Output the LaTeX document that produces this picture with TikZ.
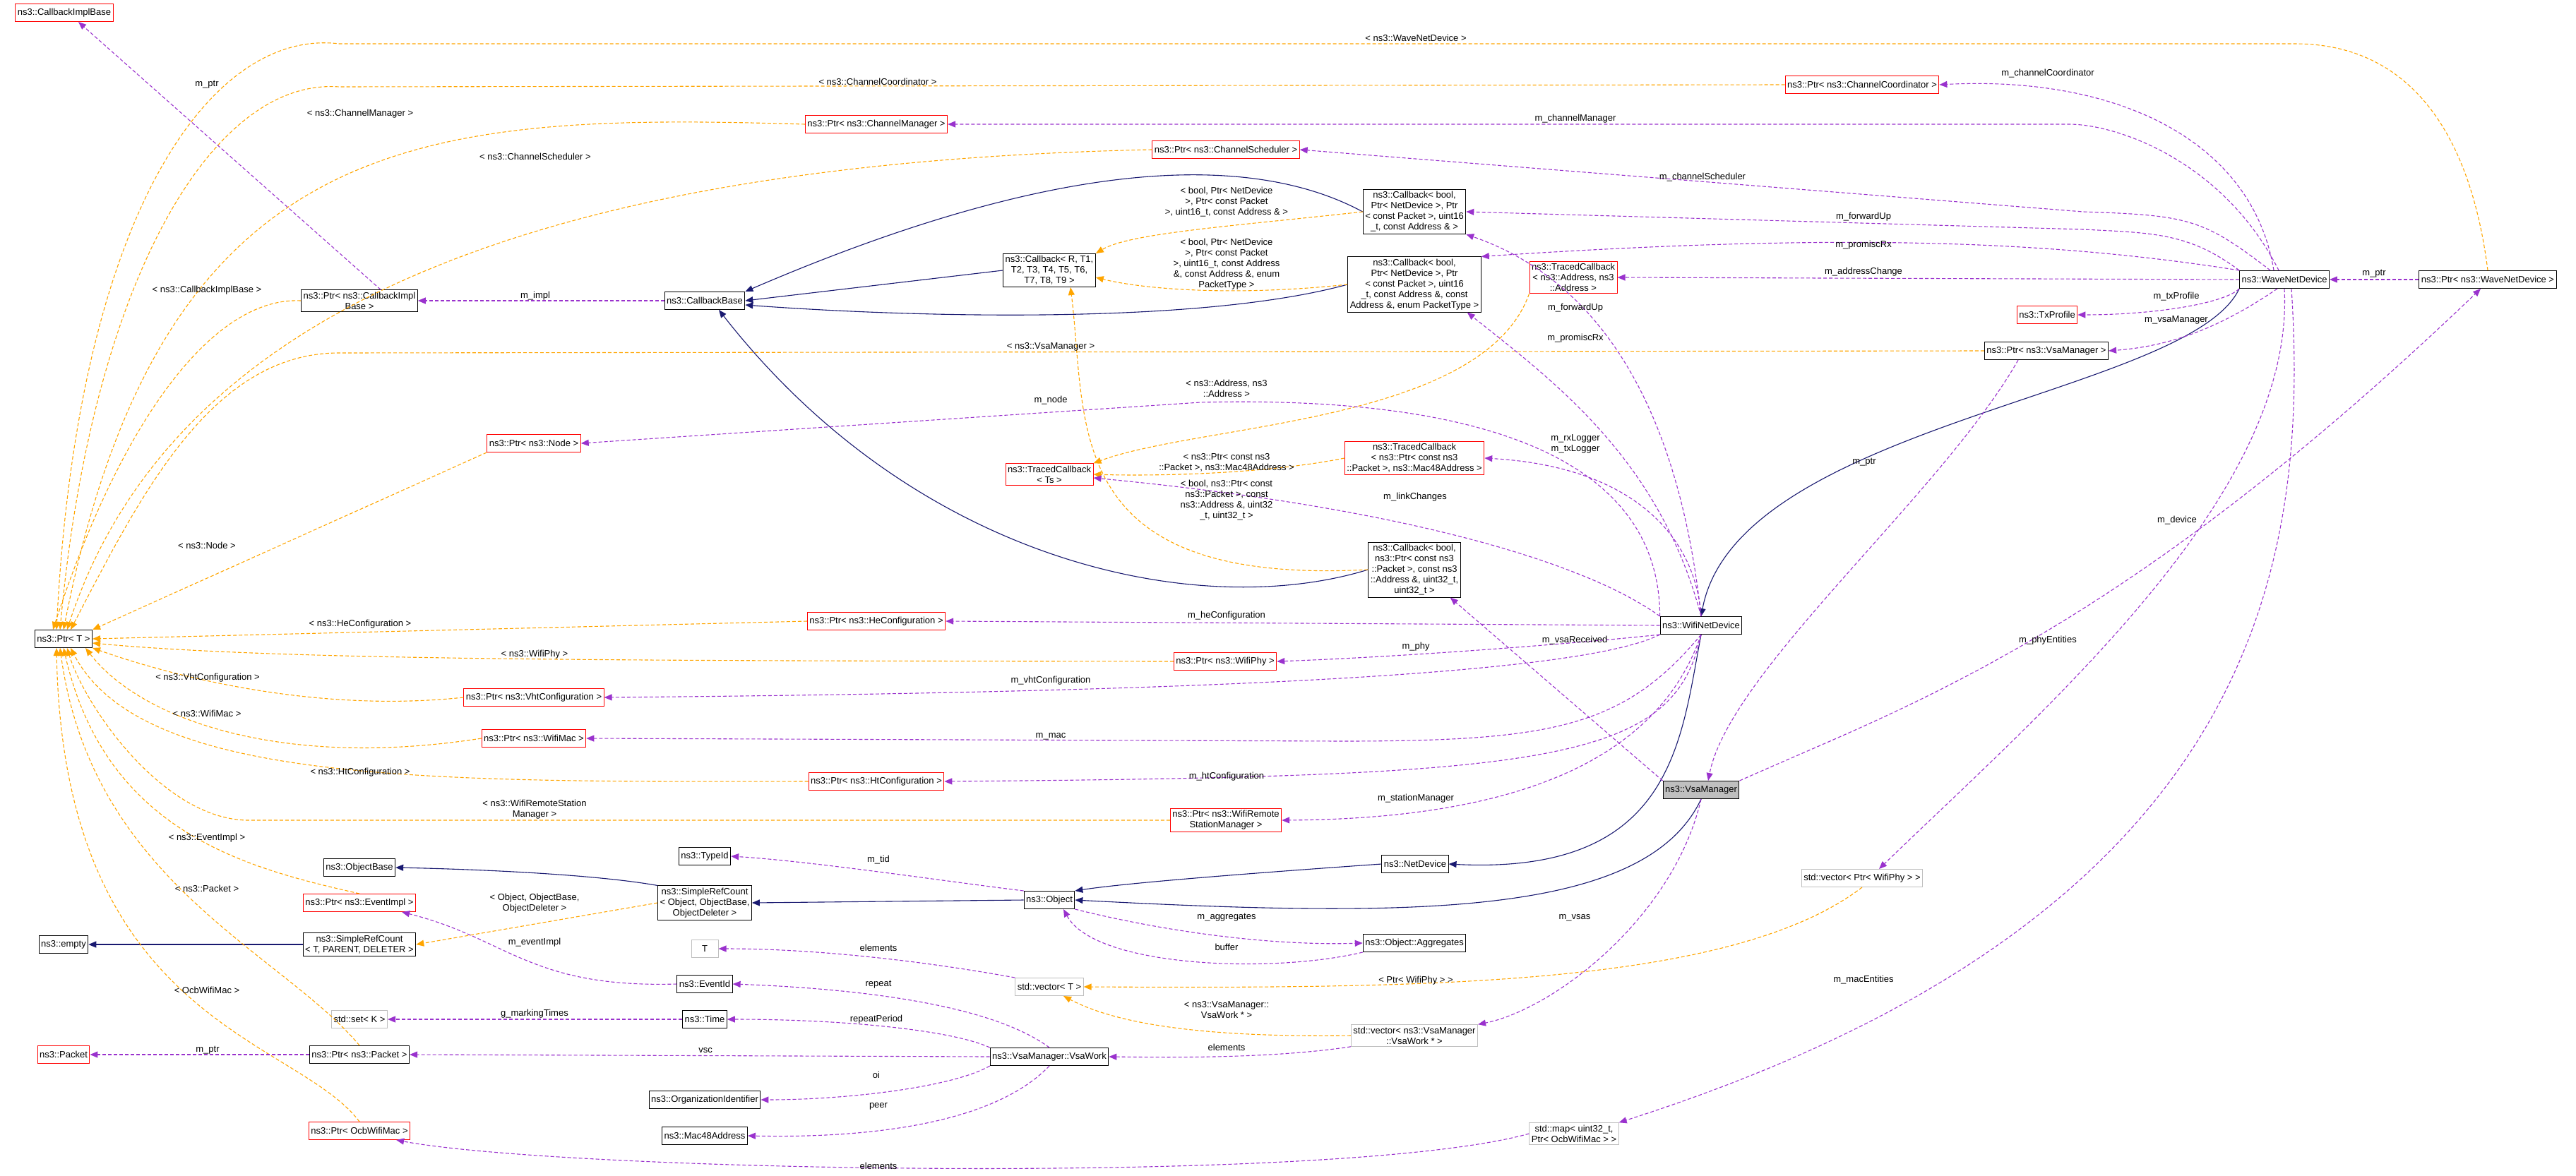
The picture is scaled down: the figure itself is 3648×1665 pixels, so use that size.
\documentclass[tikz,border=0pt]{standalone}
\usepackage{fontspec}
\setmainfont{Liberation Sans}
\usetikzlibrary{arrows.meta}
\definecolor{usecol}{HTML}{9A32CD}
\definecolor{tplcol}{HTML}{FFA500}
\definecolor{inhcol}{HTML}{191970}
\definecolor{boxgrey}{HTML}{BFBFBF}
\tikzset{
  cls/.style={draw=black, line width=1pt, fill=white, inner sep=3pt, minimum height=25pt, align=center, font=\fontsize{13}{15}\selectfont},
  undoc/.style={cls, draw=red},
  ext/.style={cls, draw=boxgrey},
  self/.style={cls, fill=boxgrey},
  lbl/.style={align=center, inner sep=1pt, font=\fontsize{13}{15}\selectfont},
  use/.style={draw=usecol, line width=1.1pt, dash pattern=on 5pt off 3pt, -{Triangle[length=11pt,width=9pt]}},
  tpl/.style={draw=tplcol, line width=1.1pt, dash pattern=on 5pt off 3pt, -{Triangle[length=11pt,width=9pt]}},
  inh/.style={draw=inhcol, line width=1.1pt, -{Triangle[length=11pt,width=9pt]}},
}
\begin{document}
\begin{tikzpicture}[x=1pt,y=-1pt]
  \useasboundingbox (0,0) rectangle (3648,1665);

  % classes
  \node[undoc] (cib) at (91,18) {ns3::CallbackImplBase};
  \node[cls] (pcib) at (509,426) {ns3::Ptr< ns3::CallbackImpl\\Base >};
  \node[cls] (cbase) at (998,426) {ns3::CallbackBase};
  \node[undoc] (pcc) at (2637,120) {ns3::Ptr< ns3::ChannelCoordinator >};
  \node[undoc] (pcm) at (1241,176) {ns3::Ptr< ns3::ChannelManager >};
  \node[undoc] (pcs) at (1736,212) {ns3::Ptr< ns3::ChannelScheduler >};
  \node[cls] (cbfwd) at (2003,300) {ns3::Callback< bool,\\ Ptr< NetDevice >, Ptr\\< const Packet >, uint16\\\_t, const Address \& >};
  \node[cls] (cbgen) at (1486,383) {ns3::Callback< R, T1,\\ T2, T3, T4, T5, T6,\\ T7, T8, T9 >};
  \node[cls] (cbprom) at (2003,403) {ns3::Callback< bool,\\ Ptr< NetDevice >, Ptr\\< const Packet >, uint16\\\_t, const Address \&, const\\ Address \&, enum PacketType >};
  \node[undoc] (tcaddr) at (2228,393) {ns3::TracedCallback\\< ns3::Address, ns3\\::Address >};
  \node[cls] (wave) at (3235,396) {ns3::WaveNetDevice};
  \node[cls] (pwave) at (3523,396) {ns3::Ptr< ns3::WaveNetDevice >};
  \node[undoc] (txp) at (2899,446) {ns3::TxProfile};
  \node[cls] (pvsa) at (2898,497) {ns3::Ptr< ns3::VsaManager >};
  \node[undoc] (pnode) at (756,628) {ns3::Ptr< ns3::Node >};
  \node[undoc] (tcts) at (1486,672) {ns3::TracedCallback\\< Ts >};
  \node[undoc] (tcpkt) at (2003,649) {ns3::TracedCallback\\< ns3::Ptr< const ns3\\::Packet >, ns3::Mac48Address >};
  \node[cls] (cbvsa) at (2003,807) {ns3::Callback< bool,\\ ns3::Ptr< const ns3\\::Packet >, const ns3\\::Address \&, uint32\_t,\\ uint32\_t >};
  \node[cls] (pt) at (90,905) {ns3::Ptr< T >};
  \node[undoc] (phe) at (1241,880) {ns3::Ptr< ns3::HeConfiguration >};
  \node[cls] (wifi) at (2409,886) {ns3::WifiNetDevice};
  \node[undoc] (pphy) at (1735,937) {ns3::Ptr< ns3::WifiPhy >};
  \node[undoc] (pvht) at (756,988) {ns3::Ptr< ns3::VhtConfiguration >};
  \node[undoc] (pmac) at (756,1046) {ns3::Ptr< ns3::WifiMac >};
  \node[undoc] (pht) at (1241,1107) {ns3::Ptr< ns3::HtConfiguration >};
  \node[undoc] (prsm) at (1736,1162) {ns3::Ptr< ns3::WifiRemote\\StationManager >};
  \node[self] (vsa) at (2409,1119) {ns3::VsaManager};
  \node[cls] (tid) at (998,1213) {ns3::TypeId};
  \node[cls] (obase) at (509,1229) {ns3::ObjectBase};
  \node[cls] (netdev) at (2004,1224) {ns3::NetDevice};
  \node[undoc] (pevt) at (509,1279) {ns3::Ptr< ns3::EventImpl >};
  \node[cls] (src) at (998,1279) {ns3::SimpleRefCount\\< Object, ObjectBase,\\ ObjectDeleter >};
  \node[cls] (obj) at (1486,1275) {ns3::Object};
  \node[cls] (srt) at (509,1338) {ns3::SimpleRefCount\\< T, PARENT, DELETER >};
  \node[cls] (empty) at (90,1338) {ns3::empty};
  \node[ext, minimum width=38pt] (tnode) at (998,1344) {T};
  \node[cls] (agg) at (2003,1336) {ns3::Object::Aggregates};
  \node[ext] (vect) at (1486,1398) {std::vector< T >};
  \node[cls] (evid) at (998,1394) {ns3::EventId};
  \node[ext] (setk) at (509,1444) {std::set< K >};
  \node[cls] (time) at (998,1444) {ns3::Time};
  \node[ext] (vwork) at (2003,1467) {std::vector< ns3::VsaManager\\::VsaWork * >};
  \node[undoc] (pkt) at (90,1494) {ns3::Packet};
  \node[cls] (ppkt) at (509,1494) {ns3::Ptr< ns3::Packet >};
  \node[cls] (work) at (1486,1497) {ns3::VsaManager::VsaWork};
  \node[ext] (vphy) at (2637,1244) {std::vector< Ptr< WifiPhy > >};
  \node[cls] (orgid) at (998,1558) {ns3::OrganizationIdentifier};
  \node[cls] (mac48) at (998,1609) {ns3::Mac48Address};
  \node[undoc] (pocb) at (509,1602) {ns3::Ptr< OcbWifiMac >};
  \node[ext] (smap) at (2229,1606) {std::map< uint32\_t,\\ Ptr< OcbWifiMac > >};

  % inheritance
  \draw[inh] (cbfwd.west) .. controls (1800,230) and (1550,200) .. (cbase.north east);
  \draw[inh] (cbgen.west) -- (cbase.east);
  \draw[inh] (cbprom.west) .. controls (1700,460) and (1300,450) .. ([yshift=-6pt]cbase.east);
  \draw[inh] (cbvsa.west) .. controls (1700,880) and (1300,800) .. ([xshift=20pt]cbase.south);
  \draw[inh] (wave.south west) .. controls (3100,560) and (2460,600) .. (wifi.north);
  \draw[inh] (wifi.south) .. controls (2380,1050) and (2370,1240) .. (netdev.east);
  \draw[inh] (netdev.west) .. controls (1800,1235) and (1600,1250) .. (obj.north east);
  \draw[inh] (vsa.south) .. controls (2330,1300) and (2000,1300) .. (obj.east);
  \draw[inh] (src.north west) .. controls (850,1240) and (700,1232) .. (obase.east);
  \draw[inh] (obj.west) -- (src.east);
  \draw[inh] (srt.west) -- (empty.east);

  % templates
  \draw[tpl] (pwave.north) .. controls (3500,200) and (3420,62) .. (3250,62) -- (480,62) .. controls (300,40) and (110,300) .. ([xshift=-10pt]pt.north);
  \draw[tpl] (pcc.west) -- (480,123) .. controls (300,110) and (130,400) .. ([xshift=-5pt]pt.north);
  \draw[tpl] (pcm.west) .. controls (600,160) and (230,180) .. (pt.north);
  \draw[tpl] (pcs.west) .. controls (800,230) and (250,420) .. ([xshift=5pt]pt.north);
  \draw[tpl] (pcib.west) .. controls (300,420) and (170,600) .. ([xshift=-15pt]pt.north);
  \draw[tpl] (pvsa.west) -- (480,500) .. controls (300,500) and (200,700) .. ([xshift=10pt]pt.north);
  \draw[tpl] (pnode.south west) -- (pt.north east);
  \draw[tpl] (phe.west) -- (pt.east);
  \draw[tpl] (pphy.west) .. controls (900,936) and (400,936) .. ([yshift=-6pt]pt.east);
  \draw[tpl] (pvht.west) .. controls (450,1010) and (250,960) .. (pt.south east);
  \draw[tpl] (pmac.west) .. controls (400,1090) and (200,1020) .. ([xshift=-10pt]pt.south east);
  \draw[tpl] (pht.west) .. controls (600,1108) and (200,1110) .. ([xshift=10pt]pt.south);
  \draw[tpl] (prsm.west) -- (350,1162) .. controls (230,1160) and (120,1000) .. ([xshift=5pt]pt.south);
  \draw[tpl] (pevt.north) .. controls (350,1230) and (150,1180) .. (pt.south);
  \draw[tpl] (ppkt.north) .. controls (400,1350) and (130,1250) .. ([xshift=-5pt]pt.south);
  \draw[tpl] (pocb.north) .. controls (420,1470) and (90,1450) .. ([xshift=-10pt]pt.south);
  \draw[tpl] (cbfwd.west) .. controls (1750,320) and (1600,330) .. (cbgen.north east);
  \draw[tpl] (cbprom.west) .. controls (1750,420) and (1620,410) .. ([yshift=-10pt]cbgen.east);
  \draw[tpl] (cbvsa.west) .. controls (1500,830) and (1540,600) .. ([xshift=30pt]cbgen.south);
  \draw[tpl] (tcaddr.south west) .. controls (2100,600) and (1700,600) .. (tcts.north east);
  \draw[tpl] (tcpkt.west) .. controls (1800,670) and (1650,675) .. (tcts.east);
  \draw[tpl] (src.west) -- (srt.east);
  \draw[tpl] (vphy.south) .. controls (2450,1400) and (2000,1400) .. (vect.east);
  \draw[tpl] (vwork.west) .. controls (1700,1470) and (1580,1450) .. ([xshift=20pt]vect.south);

  % members
  \draw[use] ([xshift=30pt]pcib.north) -- ([xshift=20pt]cib.south);
  \draw[use] (cbase.west) -- (pcib.east);
  \draw[use] ([xshift=-15pt]wave.north) .. controls (3190,200) and (3000,107) .. (pcc.east);
  \draw[use] ([xshift=-8pt]wave.north) .. controls (3150,230) and (3000,176) .. (2930,176) -- (pcm.east);
  \draw[use] ([xshift=-20pt]wave.north) .. controls (3120,310) and (3100,305) .. (2950,300) -- (pcs.east);
  \draw[use] (wave.north west) .. controls (3100,330) and (3050,330) .. (2950,325) -- (cbfwd.east);
  \draw[use] (wave.north west) .. controls (2900,340) and (2600,330) .. (cbprom.north east);
  \draw[use] (wave.west) -- (tcaddr.east);
  \draw[use] (wave.south west) .. controls (3150,430) and (3050,446) .. (txp.east);
  \draw[use] ([xshift=-10pt]wave.south) .. controls (3150,460) and (3080,490) .. (pvsa.east);
  \draw[use] (pwave.west) -- (wave.east);
  \draw[use] (wave.south) .. controls (3250,700) and (2900,1000) .. ([xshift=24pt]vphy.north);
  \draw[use] ([xshift=10pt]wave.south) .. controls (3270,800) and (3200,1300) .. (smap.north east);
  \draw[use] (wifi.north) .. controls (2390,700) and (2330,420) .. (cbfwd.south east);
  \draw[use] (wifi.north) .. controls (2350,650) and (2200,540) .. ([xshift=-20pt]cbprom.south east);
  \draw[use] (wifi.north west) .. controls (2350,650) and (2100,560) .. (1700,570) -- (pnode.east);
  \draw[use] (wifi.north west) .. controls (2250,800) and (2000,720) .. ([yshift=-5pt]tcts.east);
  \draw[use] (wifi.north) .. controls (2400,750) and (2300,660) .. (tcpkt.east);
  \draw[use] (wifi.west) -- (phe.east);
  \draw[use] (wifi.south west) .. controls (2250,910) and (2000,930) .. (pphy.east);
  \draw[use] (wifi.south west) .. controls (2250,950) and (1800,980) .. (pvht.east);
  \draw[use] (wifi.south) .. controls (2300,1030) and (2200,1050) .. (1900,1050) -- (pmac.east);
  \draw[use] (wifi.south) .. controls (2370,1080) and (2200,1100) .. (pht.east);
  \draw[use] (wifi.south) .. controls (2340,1100) and (2100,1160) .. (prsm.east);
  \draw[use] (vsa.north west) -- ([xshift=-15pt]cbvsa.south east);
  \draw[use] (vsa.north east) .. controls (2700,1000) and (3000,900) .. ([xshift=-10pt]pwave.south);
  \draw[use] (vsa.south) .. controls (2370,1300) and (2200,1430) .. (vwork.north east);
  \draw[use] ([xshift=-40pt]pvsa.south) .. controls (2750,700) and (2450,950) .. ([xshift=10pt]vsa.north);
  \draw[use] (obj.north west) .. controls (1350,1250) and (1150,1220) .. (tid.east);
  \draw[use] (obj.south east) .. controls (1650,1320) and (1800,1340) .. (agg.west);
  \draw[use] (agg.south west) .. controls (1800,1380) and (1550,1370) .. ([xshift=20pt]obj.south);
  \draw[use] (vect.north west) .. controls (1300,1360) and (1150,1344) .. (tnode.east);
  \draw[use] (evid.west) .. controls (750,1400) and (720,1330) .. ([xshift=-20pt]pevt.south east);
  \draw[use] (time.west) -- (setk.east);
  \draw[use] (ppkt.west) -- (pkt.east);
  \draw[use] (work.north) .. controls (1400,1420) and (1200,1400) .. (evid.east);
  \draw[use] (work.north west) .. controls (1350,1460) and (1200,1444) .. (time.east);
  \draw[use] (work.west) -- (ppkt.east);
  \draw[use] (work.south west) .. controls (1350,1540) and (1200,1558) .. (orgid.east);
  \draw[use] (work.south) .. controls (1400,1600) and (1200,1612) .. (mac48.east);
  \draw[use] (vwork.south west) .. controls (1800,1500) and (1650,1498) .. (work.east);
  \draw[use] (smap.west) .. controls (1900,1680) and (800,1660) .. ([xshift=-20pt]pocb.south east);

  % labels
  \node[lbl] at (2005,54) {< ns3::WaveNetDevice >};
  \node[lbl] at (1243,116) {< ns3::ChannelCoordinator >};
  \node[lbl] at (510,161) {< ns3::ChannelManager >};
  \node[lbl] at (758,222) {< ns3::ChannelScheduler >};
  \node[lbl] at (293,411) {< ns3::CallbackImplBase >};
  \node[lbl] at (1488,491) {< ns3::VsaManager >};
  \node[lbl] at (293,773) {< ns3::Node >};
  \node[lbl] at (510,884) {< ns3::HeConfiguration >};
  \node[lbl] at (757,927) {< ns3::WifiPhy >};
  \node[lbl] at (294,960) {< ns3::VhtConfiguration >};
  \node[lbl] at (293,1011) {< ns3::WifiMac >};
  \node[lbl] at (510,1094) {< ns3::HtConfiguration >};
  \node[lbl] at (757,1147) {< ns3::WifiRemoteStation\\Manager >};
  \node[lbl] at (293,1187) {< ns3::EventImpl >};
  \node[lbl] at (293,1259) {< ns3::Packet >};
  \node[lbl] at (293,1403) {< OcbWifiMac >};
  \node[lbl] at (757,1280) {< Object, ObjectBase,\\ObjectDeleter >};
  \node[lbl] at (1737,286) {< bool, Ptr< NetDevice\\>, Ptr< const Packet\\>, uint16\_t, const Address \& >};
  \node[lbl] at (1737,374) {< bool, Ptr< NetDevice\\>, Ptr< const Packet\\>, uint16\_t, const Address\\\&, const Address \&, enum\\PacketType >};
  \node[lbl] at (1737,550) {< ns3::Address, ns3\\::Address >};
  \node[lbl] at (1737,655) {< ns3::Ptr< const ns3\\::Packet >, ns3::Mac48Address >};
  \node[lbl] at (1737,709) {< bool, ns3::Ptr< const\\ns3::Packet >, const\\ns3::Address \&, uint32\\\_t, uint32\_t >};
  \node[lbl] at (2005,1389) {< Ptr< WifiPhy > >};
  \node[lbl] at (1737,1431) {< ns3::VsaManager::\\VsaWork * >};
  \node[lbl] at (293,120) {m\_ptr};
  \node[lbl] at (758,419) {m\_impl};
  \node[lbl] at (2900,104) {m\_channelCoordinator};
  \node[lbl] at (2231,168) {m\_channelManager};
  \node[lbl] at (2411,251) {m\_channelScheduler};
  \node[lbl] at (2639,307) {m\_forwardUp};
  \node[lbl] at (2639,347) {m\_promiscRx};
  \node[lbl] at (2639,385) {m\_addressChange};
  \node[lbl] at (3362,388) {m\_ptr};
  \node[lbl] at (3082,420) {m\_txProfile};
  \node[lbl] at (3082,453) {m\_vsaManager};
  \node[lbl] at (2231,436) {m\_forwardUp};
  \node[lbl] at (2231,479) {m\_promiscRx};
  \node[lbl] at (1488,567) {m\_node};
  \node[lbl] at (2231,629) {m\_rxLogger\\m\_txLogger};
  \node[lbl] at (2004,704) {m\_linkChanges};
  \node[lbl] at (2640,655) {m\_ptr};
  \node[lbl] at (3083,737) {m\_device};
  \node[lbl] at (2900,907) {m\_phyEntities};
  \node[lbl] at (1737,872) {m\_heConfiguration};
  \node[lbl] at (2005,916) {m\_phy};
  \node[lbl] at (2230,907) {m\_vsaReceived};
  \node[lbl] at (1488,964) {m\_vhtConfiguration};
  \node[lbl] at (1488,1043) {m\_mac};
  \node[lbl] at (1737,1100) {m\_htConfiguration};
  \node[lbl] at (2005,1131) {m\_stationManager};
  \node[lbl] at (1737,1300) {m\_aggregates};
  \node[lbl] at (1737,1342) {buffer};
  \node[lbl] at (2230,1300) {m\_vsas};
  \node[lbl] at (2639,1388) {m\_macEntities};
  \node[lbl] at (1737,1484) {elements};
  \node[lbl] at (1244,1218) {m\_tid};
  \node[lbl] at (1244,1343) {elements};
  \node[lbl] at (757,1335) {m\_eventImpl};
  \node[lbl] at (1244,1395) {repeat};
  \node[lbl] at (757,1436) {g\_markingTimes};
  \node[lbl] at (1241,1444) {repeatPeriod};
  \node[lbl] at (294,1488) {m\_ptr};
  \node[lbl] at (999,1488) {vsc};
  \node[lbl] at (1241,1523) {oi};
  \node[lbl] at (1244,1567) {peer};
  \node[lbl] at (1244,1652) {elements};
\end{tikzpicture}
\end{document}
